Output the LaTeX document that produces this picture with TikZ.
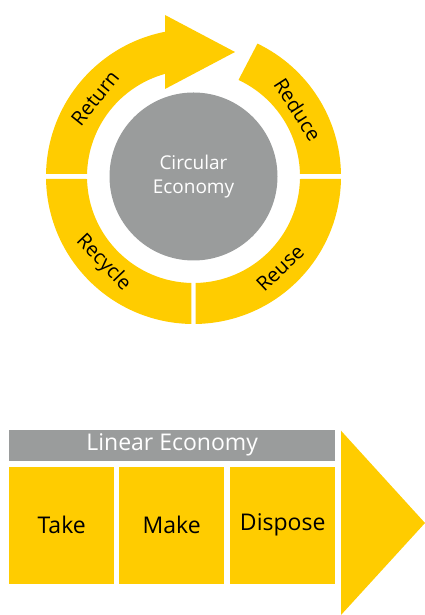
\documentclass[tikz,border=0pt]{standalone}
\usepackage{fontspec}
\setmainfont{Open Sans}
\definecolor{ylw}{RGB}{255,204,0}
\definecolor{gry}{RGB}{154,156,156}
\begin{document}
\begin{tikzpicture}[x=1pt,y=1pt,
  seg/.style={fill=ylw,draw=none},
  ringlbl/.style={text=black,font=\fontsize{20}{24}\selectfont,inner sep=0pt},
  boxlbl/.style={text=black,font=\fontsize{23}{28}\selectfont},
  ybox/.style={fill=ylw,draw=none,minimum width=105pt,minimum height=117pt,inner sep=0pt,anchor=south west}]
\useasboundingbox (0,0) rectangle (425,615);
\coordinate (C) at (193.5,438.5);
% Return (with arrow head)
\fill[ylw] ([shift={(C)}]179.03:147.5) arc[start angle=179.03,end angle=101.14,radius=147.5]
  -- (165,600) -- (235,563) -- (165,526)
  -- ([shift={(C)}]105.52:106.5) arc[start angle=105.52,end angle=178.65,radius=106.5] -- cycle;
% Reduce
\fill[ylw] ([shift={(C)}]0.97:147.5) arc[start angle=0.97,end angle=64.3,radius=147.5]
  -- ([shift={(C)}]65:106.5) arc[start angle=65,end angle=1.35,radius=106.5] -- cycle;
% Reuse
\fill[ylw] ([shift={(C)}]270.78:147.5) arc[start angle=270.78,end angle=359.03,radius=147.5]
  -- ([shift={(C)}]358.65:106.5) arc[start angle=358.65,end angle=271.08,radius=106.5] -- cycle;
% Recycle
\fill[ylw] ([shift={(C)}]180.97:147.5) arc[start angle=180.97,end angle=269.22,radius=147.5]
  -- ([shift={(C)}]268.92:106.5) arc[start angle=268.92,end angle=181.35,radius=106.5] -- cycle;
% centre
\node (ce) [circle,fill=gry,minimum size=168pt,inner sep=0pt,text=white,align=center,
  font=\fontsize{19}{24}\selectfont] at (C) {Circular\\Economy};
% ring labels
\node (ret) [ringlbl,rotate=51.4] at ([shift={(C)}]141.4:126) {Return};
\node (red) [ringlbl,rotate=-57.3] at ([shift={(C)}]32.7:124) {Reduce};
\node (rec) [ringlbl,rotate=-46.3] at ([shift={(C)}]223.7:125) {Recycle};
\node (reu) [ringlbl,rotate=43.4] at ([shift={(C)}]-46.6:126) {Reuse};
% linear economy
\node (lin) [fill=gry,draw=none,minimum width=326pt,minimum height=31pt,inner sep=0pt,anchor=south west,
  text=white,font=\fontsize{23}{28}\selectfont] at (9,154) {Linear Economy};
\node (take) [ybox] at (9,31) {};
\node (make) [ybox] at (119,31) {};
\node (disp) [ybox] at (230,31) {};
\node [boxlbl] at (take.center) {Take};
\node [boxlbl] at (make.center) {Make};
\node [boxlbl] at (disp.center) {Dispose};
\fill[ylw] (341,184.3) -- (425,92) -- (341,0) -- cycle;
\end{tikzpicture}
\end{document}
